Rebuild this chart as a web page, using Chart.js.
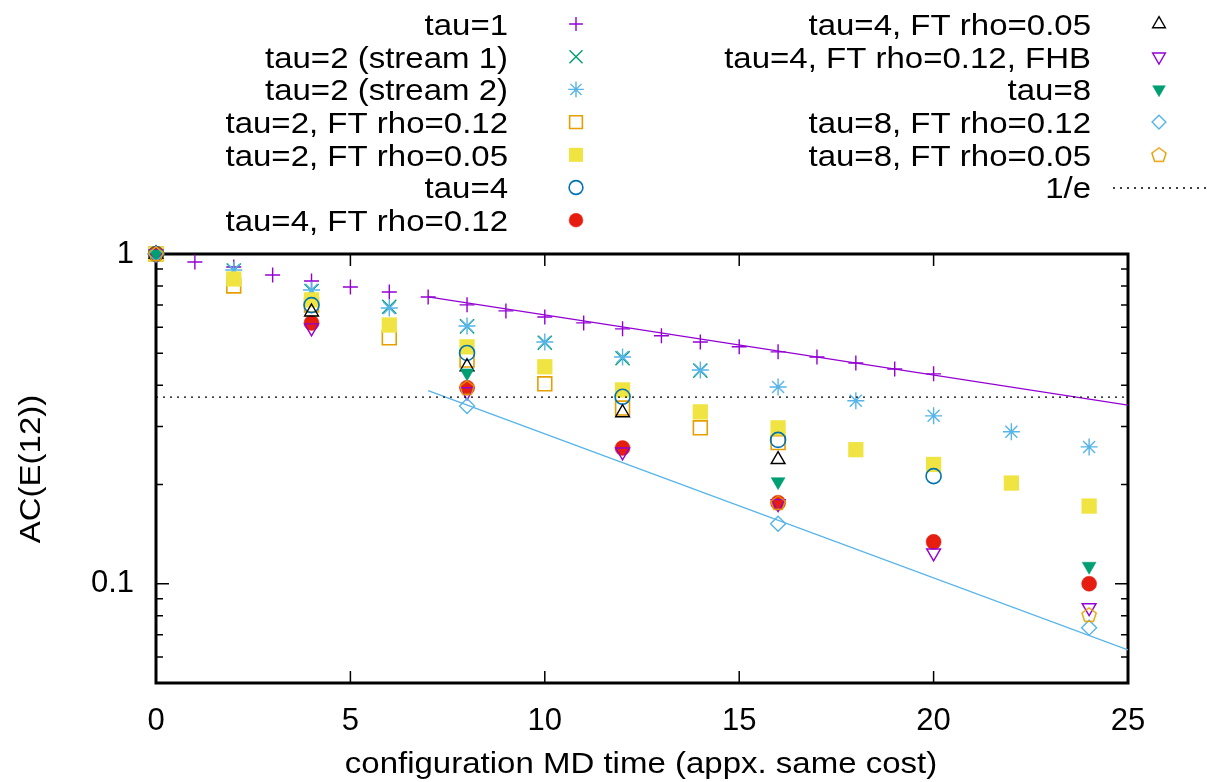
<!DOCTYPE html>
<html>
<head>
<meta charset="utf-8">
<title>AC(E(12))</title>
<style>
  html, body { margin: 0; padding: 0; background: #fff; }
</style>
<script src="https://cdn.jsdelivr.net/npm/chart.js@4.4.0/dist/chart.umd.min.js"></script>
</head>
<body>
<canvas id="ac" width="1208" height="782"></canvas>
<script>
// values
const tau1X = [0, 1, 2, 3, 4, 5, 6, 7, 8, 9, 10, 11, 12, 13, 14, 15, 16, 17, 18, 19, 20]
const tau1Y = [1, 0.946, 0.913, 0.864, 0.828, 0.794, 0.767, 0.741, 0.701, 0.672, 0.644,
               0.618, 0.593, 0.565, 0.541, 0.523, 0.505, 0.487, 0.467, 0.448, 0.433]

const stream1X = [0, 2, 4, 6, 8, 10, 12, 14]
const stream1Y = [1, 0.89, 0.772, 0.692, 0.603, 0.538, 0.483, 0.443]

const stream2X = [0, 2, 4, 6, 8, 10, 12, 14, 16, 18, 20, 22, 24]
const stream2Y = [1, 0.894, 0.778, 0.686, 0.605, 0.541, 0.487, 0.445, 0.395, 0.359, 0.323, 0.289, 0.260]

const tau2ft012X = [0, 2, 4, 6, 8, 10, 12, 14, 16]
const tau2ft012Y = [1, 0.80, 0.70, 0.557, 0.477, 0.404, 0.341, 0.297, 0.268]

const tau2ft005X = [0, 2, 4, 6, 8, 10, 12, 14, 16, 18, 20, 22, 24]
const tau2ft005Y = [1, 0.84, 0.726, 0.609, 0.523, 0.455, 0.387, 0.332, 0.297, 0.255, 0.230, 0.202, 0.172]

const tau4X = [0, 4, 8, 12, 16, 20]
const tau4Y = [1, 0.700, 0.501, 0.369, 0.273, 0.212]

const tau4ft012X = [0, 4, 8, 12, 16, 20, 24]
const tau4ft012Y = [1, 0.618, 0.393, 0.258, 0.176, 0.134, 0.100]

const tau4ft005X = [0, 4, 8, 12, 16]
const tau4ft005Y = [1, 0.667, 0.455, 0.330, 0.238]

const fhbX = [0, 4, 8, 12, 16, 20, 24]
const fhbY = [1, 0.597, 0.382, 0.251, 0.175, 0.124, 0.0846]

const tau8X = [0, 8, 16, 24]
const tau8Y = [1, 0.436, 0.204, 0.113]
const tau8ft012Y = [1, 0.346, 0.152, 0.0736]
const tau8ft005Y = [1, 0.393, 0.176, 0.0805]

// exponential fits (straight on the log axis)
const fitX = [7, 25]
const fitTau1Y = [0.741, 0.348]
const fitTau8Y = [0.385, 0.0630]

const invEX = [0, 25]
const invEY = [0.3679, 0.3679]

const xTicks = [0, 5, 10, 15, 20, 25]
const yMajor = [0.1, 1]
const yMinor = [0.06, 0.07, 0.08, 0.09, 0.2, 0.3, 0.4, 0.5, 0.6, 0.7, 0.8, 0.9]

const FAMILY = '"Liberation Sans", Arial, Helvetica, sans-serif'
const STRETCH = 1.1

const purple = '#9400d3', green = '#009e73', sky = '#56b4e9', orange = '#e69f00'
const yellow = '#f0e442', blue = '#0072b2', red = '#e51e10', none = 'rgba(0,0,0,0)'

// pentagon marker, not built into chart.js
const pentagon = document.createElement('canvas')
pentagon.width = 20
pentagon.height = 20
{
  const c = pentagon.getContext('2d')
  c.strokeStyle = orange
  c.lineWidth = 1.4
  c.beginPath()
  for (let k = 0; k < 5; k++) {
    const a = -Math.PI / 2 + k * 2 * Math.PI / 5
    const px = 10 + 7.5 * Math.cos(a), py = 10.5 + 7.5 * Math.sin(a)
    k === 0 ? c.moveTo(px, py) : c.lineTo(px, py)
  }
  c.closePath()
  c.stroke()
}

const pts = (xs, ys) => xs.map((x, i) => ({x: x, y: ys[i]}))

const marks = (label, xs, ys, style) => Object.assign({
  label: label,
  data: pts(xs, ys),
  showLine: false,
  clip: false,
  pointBorderWidth: 1.4,
  pointBackgroundColor: none
}, style)

const fit = (label, xs, ys, colour, dash) => ({
  label: label,
  data: pts(xs, ys),
  showLine: true,
  pointRadius: 0,
  borderColor: colour,
  borderWidth: dash ? 1.3 : 1.4,
  borderDash: dash || [],
  fill: false
})

const datasets = [
  marks('tau=1', tau1X, tau1Y, {pointStyle: 'cross', pointRadius: 7.5, pointBorderColor: purple}),
  marks('tau=2 (stream 1)', stream1X, stream1Y, {pointStyle: 'crossRot', pointRadius: 10, pointBorderColor: green}),
  marks('tau=2 (stream 2)', stream2X, stream2Y, {pointStyle: 'star', pointRadius: 8.5, pointBorderColor: sky}),
  marks('tau=2, FT rho=0.12', tau2ft012X, tau2ft012Y, {pointStyle: 'rect', pointRadius: 9.8, pointBorderColor: orange, pointBorderWidth: 1.6}),
  marks('tau=2, FT rho=0.05', tau2ft005X, tau2ft005Y, {pointStyle: 'rect', pointRadius: 10.8, pointBorderColor: yellow, pointBackgroundColor: yellow, pointBorderWidth: 0}),
  marks('tau=4', tau4X, tau4Y, {pointStyle: 'circle', pointRadius: 7.5, pointBorderColor: blue, pointBorderWidth: 1.6}),
  marks('tau=4, FT rho=0.12', tau4ft012X, tau4ft012Y, {pointStyle: 'circle', pointRadius: 7.5, pointBorderColor: red, pointBackgroundColor: red, pointBorderWidth: 0.5}),
  marks('tau=4, FT rho=0.05', tau4ft005X, tau4ft005Y, {pointStyle: 'triangle', pointRadius: 8, pointBorderColor: '#000'}),
  marks('tau=4, FT rho=0.12, FHB', fhbX, fhbY, {pointStyle: 'triangle', pointRotation: 180, pointRadius: 8, pointBorderColor: purple}),
  marks('tau=8', tau8X, tau8Y, {pointStyle: 'triangle', pointRotation: 180, pointRadius: 8, pointBorderColor: green, pointBackgroundColor: green, pointBorderWidth: 0.5}),
  marks('tau=8, FT rho=0.12', tau8X, tau8ft012Y, {pointStyle: 'rectRot', pointRadius: 7.5, pointBorderColor: sky}),
  marks('tau=8, FT rho=0.05', tau8X, tau8ft005Y, {pointStyle: pentagon, pointRadius: 10}),
  fit('fit tau=1', fitX, fitTau1Y, purple),
  fit('fit tau=8', fitX, fitTau8Y, sky),
  fit('1/e', invEX, invEY, '#000', [2, 5])
]
// later entries sit on top, as in gnuplot
datasets.forEach((d, i) => { d.order = -i })

const legendCols = [
  {rows: [0, 1, 2, 3, 4, 5, 6], textRight: 508, markX: 576},
  {rows: [7, 8, 9, 10, 11, 14], textRight: 1091, markX: 1159}
]
const legendTop = 24
const legendStep = 32.7

const stretchedText = (ctx, text, x, y, align, angle) => {
  ctx.save()
  ctx.translate(x, y)
  if (angle) ctx.rotate(angle)
  ctx.scale(STRETCH, 1)
  ctx.textAlign = align
  ctx.fillText(text, 0, 0)
  ctx.restore()
}

const gnuplotFrame = {
  id: 'gnuplotFrame',
  beforeDatasetsDraw(chart) {
    const {ctx, chartArea: a, scales: {x, y}} = chart
    ctx.save()
    ctx.strokeStyle = '#000'
    ctx.lineWidth = 1.5
    ctx.beginPath()
    xTicks.forEach(v => {
      const px = x.getPixelForValue(v)
      ctx.moveTo(px, a.bottom); ctx.lineTo(px, a.bottom - 12)
      ctx.moveTo(px, a.top); ctx.lineTo(px, a.top + 12)
    })
    yMajor.forEach(v => {
      const py = y.getPixelForValue(v)
      ctx.moveTo(a.left, py); ctx.lineTo(a.left + 13, py)
      ctx.moveTo(a.right, py); ctx.lineTo(a.right - 13, py)
    })
    yMinor.forEach(v => {
      const py = y.getPixelForValue(v)
      ctx.moveTo(a.left, py); ctx.lineTo(a.left + 7, py)
      ctx.moveTo(a.right, py); ctx.lineTo(a.right - 7, py)
    })
    ctx.stroke()
    ctx.lineWidth = 3
    ctx.strokeRect(a.left, a.top, a.right - a.left, a.bottom - a.top)
    ctx.restore()
  },
  afterDraw(chart) {
    const ctx = chart.ctx
    const a = chart.chartArea
    ctx.save()
    ctx.fillStyle = '#000'
    ctx.font = '30px ' + FAMILY
    ctx.textBaseline = 'middle'
    stretchedText(ctx, 'AC(E(12))', 32, 469, 'center', -Math.PI / 2)
    stretchedText(ctx, 'configuration MD time (appx. same cost)', (a.left + a.right) / 2 - 1, 765, 'center')

    ctx.textBaseline = 'alphabetic'
    legendCols.forEach(col => {
      col.rows.forEach((idx, r) => {
        const ds = chart.data.datasets[idx]
        const yy = legendTop + r * legendStep
        ctx.fillStyle = '#000'
        stretchedText(ctx, ds.label, col.textRight, yy + 10.8, 'right')
        if (ds.showLine) {
          ctx.save()
          ctx.strokeStyle = ds.borderColor
          ctx.lineWidth = ds.borderWidth
          ctx.setLineDash(ds.borderDash)
          ctx.beginPath()
          ctx.moveTo(col.textRight + 22, yy + 0.5)
          ctx.lineTo(1208, yy + 0.5)
          ctx.stroke()
          ctx.restore()
        } else {
          ctx.save()
          ctx.strokeStyle = ds.pointBorderColor || '#000'
          ctx.fillStyle = ds.pointBackgroundColor
          ctx.lineWidth = ds.pointBorderWidth
          Chart.helpers.drawPoint(ctx, {
            pointStyle: ds.pointStyle,
            rotation: ds.pointRotation || 0,
            radius: typeof ds.pointStyle === 'string' ? ds.pointRadius * 0.92 : ds.pointRadius,
            borderWidth: ds.pointBorderWidth
          }, col.markX, yy)
          ctx.restore()
        }
      })
    })
    ctx.restore()
  }
}

new Chart(document.getElementById('ac'), {
  type: 'scatter',
  data: {datasets: datasets},
  plugins: [gnuplotFrame],
  options: {
    responsive: false,
    animation: false,
    events: [],
    layout: {padding: {top: 254, right: 80, left: 0, bottom: 0}},
    plugins: {legend: {display: false}, tooltip: {enabled: false}},
    elements: {point: {hoverRadius: 0}},
    scales: {
      x: {
        type: 'linear',
        min: 0,
        max: 25,
        afterBuildTicks: s => { s.ticks = xTicks.map(v => ({value: v})) },
        afterFit: s => { s.height = 99 },
        grid: {display: false, drawTicks: false},
        border: {display: false},
        ticks: {color: '#000', font: {family: FAMILY, size: 31}, padding: 20, maxRotation: 0}
      },
      y: {
        type: 'logarithmic',
        min: 0.05,
        max: 1,
        afterBuildTicks: s => { s.ticks = yMajor.map(v => ({value: v})) },
        afterFit: s => { s.width = 156 },
        grid: {display: false, drawTicks: false},
        border: {display: false},
        ticks: {color: '#000', font: {family: FAMILY, size: 31}, padding: 22, callback: v => String(v)}
      }
    }
  }
})
</script>
</body>
</html>
